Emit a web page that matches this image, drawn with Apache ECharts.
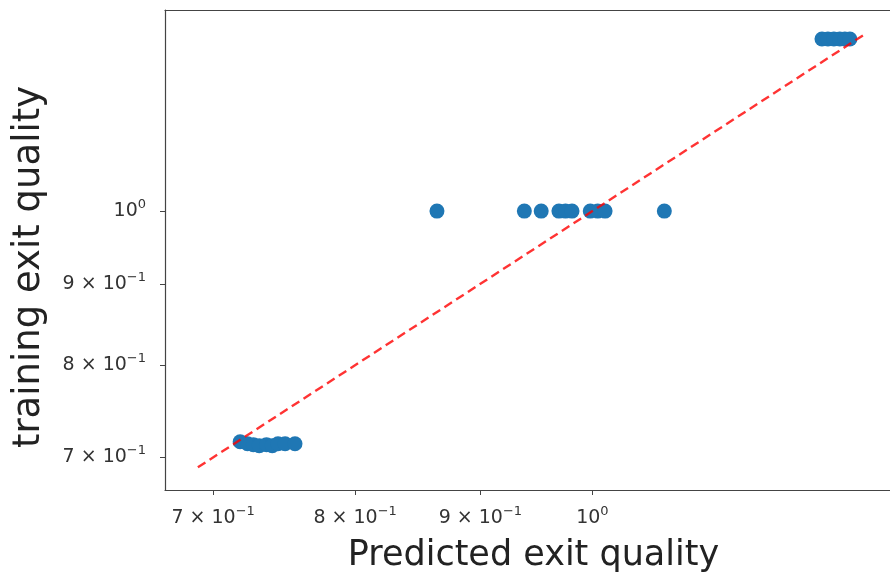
<!DOCTYPE html>
<html>
<head>
    <meta charset="utf-8">
    <title>ECharts</title>
    <script src="https://cdn.jsdelivr.net/npm/echarts@6/dist/echarts.min.js"></script>
    <style>
        body { margin: 0; }
    </style>
</head>
<body>
    <div id="main" style="width: 890px;height:579px;"></div>
    <script type="text/javascript">
        // predicted vs training exit quality (log-log)
        var predicted = [
            1.241, 1.248, 1.255, 1.262, 1.268, 1.274,
            0.864, 0.938, 0.953, 0.969, 0.975, 0.981, 0.998, 1.005, 1.012, 1.070,
            0.718, 0.723, 0.727, 0.731, 0.736, 0.740, 0.744, 0.749, 0.756
        ];
        var training = [
            1.283, 1.283, 1.283, 1.283, 1.283, 1.283,
            1.0, 1.0, 1.0, 1.0, 1.0, 1.0, 1.0, 1.0, 1.0, 1.0,
            0.716, 0.714, 0.713, 0.712, 0.713, 0.712, 0.714, 0.714, 0.714
        ];
        // y = x reference line
        var lineEnds = [0.69, 1.29];

        var tickValues = [0.7, 0.8, 0.9, 1.0];
        var tickLabels = ['{b|7 × 10}{s|−1}', '{b|8 × 10}{s|−1}', '{b|9 × 10}{s|−1}', '{b|10}{s|0}'];

        var points = predicted.map(function (x, i) { return [x, training[i]]; });
        var linePts = lineEnds.map(function (v) { return [v, v]; });

        var fmt = function (v) {
            for (var i = 0; i < tickValues.length; i++) {
                if (Math.abs(tickValues[i] - v) < 1e-6) return tickLabels[i];
            }
            return '';
        };

        var labelStyle = {
            customValues: tickValues,
            formatter: fmt,
            color: '#333',
            fontFamily: 'DejaVu Sans',
            margin: 15,
            rich: {
                b: { fontSize: 19, lineHeight: 26, color: '#333', fontFamily: 'DejaVu Sans' },
                s: { fontSize: 13, verticalAlign: 'top', color: '#333', fontFamily: 'DejaVu Sans' }
            }
        };

        var axisCommon = {
            type: 'log',
            logBase: 10,
            splitLine: { show: false },
            axisLine: { show: true, lineStyle: { color: '#444', width: 1.2 } },
            axisTick: { show: true, length: 5, customValues: tickValues, lineStyle: { color: '#444' } },
            axisLabel: labelStyle,
            nameLocation: 'middle',
            nameTextStyle: { fontFamily: 'DejaVu Sans', fontSize: 35, color: '#222' }
        };

        var myChart = echarts.init(document.getElementById('main'));
        myChart.setOption({
            animation: false,
            grid: { left: 165, top: 10, right: 0, bottom: 89 },
            xAxis: [Object.assign({}, axisCommon, {
                min: 0.669, max: 1.323,
                name: 'Predicted exit quality',
                nameGap: 48,
                nameTextStyle: Object.assign({}, axisCommon.nameTextStyle, { padding: [0, 0, 0, 12] })
            }), {
                // top frame line
                type: 'log', position: 'top', min: 0.669, max: 1.323,
                axisLine: { show: true, lineStyle: { color: '#444', width: 1.2 } },
                axisTick: { show: false }, axisLabel: { show: false }, splitLine: { show: false }
            }],
            yAxis: Object.assign({}, axisCommon, {
                min: 0.6677, max: 1.338,
                name: 'training exit quality',
                nameGap: 117,
                nameTextStyle: Object.assign({}, axisCommon.nameTextStyle, { fontSize: 37, padding: [0, 34, 0, 0] }),
                axisLabel: Object.assign({}, labelStyle, { margin: 19 })
            }),
            series: [{
                type: 'scatter',
                data: points,
                symbolSize: 15,
                itemStyle: { color: '#1f77b4', opacity: 1 },
                z: 2
            }, {
                type: 'line',
                data: linePts,
                symbol: 'none',
                lineStyle: { color: 'rgba(255,0,0,0.8)', width: 2.4, type: [9, 5] },
                z: 3
            }]
        });
    </script>
</body>
</html>
